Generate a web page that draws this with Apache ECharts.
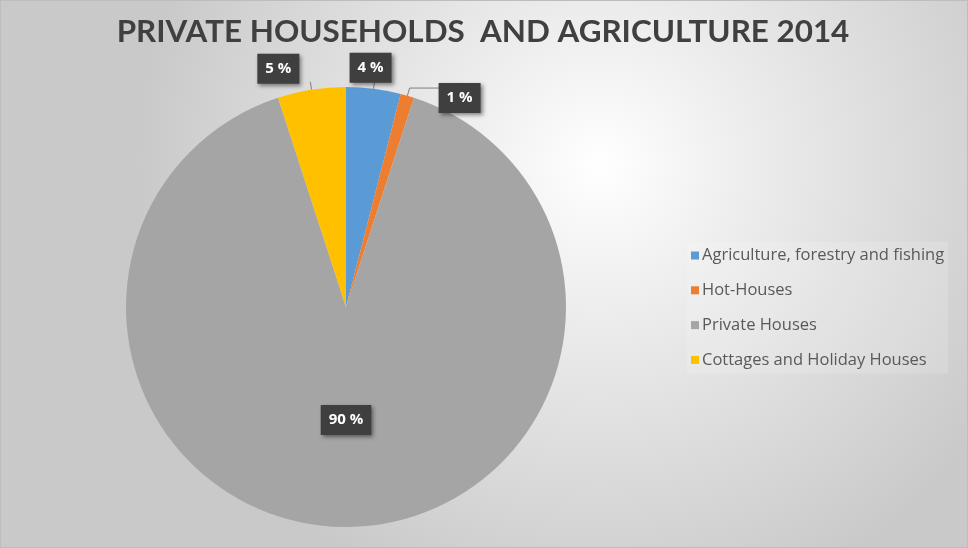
<!DOCTYPE html>
<html>
<head>
<meta charset="utf-8">
<script src="https://cdn.jsdelivr.net/npm/echarts@6/dist/echarts.min.js"></script>
<style>
  html, body { margin: 0; padding: 0; background: #ffffff; }
  #chart { width: 968px; height: 548px; box-sizing: border-box; border: 1px solid #bdbdbd; }
</style>
</head>
<body>
<div id="chart"></div>
<script>
// Share of consumption by sector, 2014 (percent)
const categories = [
  'Agriculture, forestry and fishing',
  'Hot-Houses',
  'Private Houses',
  'Cottages and Holiday Houses'
];
const shares = [4, 1, 90, 5];
const colors = ['#5B9BD5', '#ED7D31', '#A5A5A5', '#FFC000'];
const titleText = 'PRIVATE HOUSEHOLDS  AND AGRICULTURE 2014';

// nudges for the callout boxes of the narrow slices
const labelNudge = [[-30, -13], [-8, 10], [0, 0], [-6, -13]];
const leaderLen2 = [0, 32, 0, 0];

const chart = echarts.init(document.getElementById('chart'), null, { renderer: 'canvas' });

const labelBox = {
  show: true,
  formatter: p => p.value + ' %',
  color: '#ffffff',
  fontFamily: 'Open Sans',
  fontWeight: 'bold',
  fontSize: 15,
  backgroundColor: '#3f3f3f',
  padding: [8, 8, 7, 8],
  shadowColor: 'rgba(0,0,0,0.45)',
  shadowBlur: 4,
  shadowOffsetX: 2,
  shadowOffsetY: 2
};

const data = categories.map((name, i) => {
  const item = {
    name, value: shares[i], itemStyle: { color: colors[i] },
    labelLine: { length2: leaderLen2[i] }
  };
  if (name === 'Private Houses') {
    item.label = Object.assign({}, labelBox, { position: 'inside' });
    item.labelLine = { show: false };
  }
  return item;
});

chart.setOption({
  backgroundColor: {
    type: 'radial', x: 0.62, y: 0.3, r: 0.85,
    colorStops: [
      { offset: 0, color: '#ffffff' },
      { offset: 0.3, color: '#eeeeee' },
      { offset: 1, color: '#c9c9c9' }
    ]
  },
  title: {
    text: titleText,
    left: 477, top: 10, textAlign: 'center',
    textStyle: { fontFamily: 'Lato', fontWeight: 'bold', fontSize: 31.4, color: '#404040' }
  },
  legend: {
    orient: 'vertical',
    left: 686, top: 241,
    itemWidth: 8, itemHeight: 8, itemGap: 17.8,
    icon: 'rect',
    backgroundColor: 'rgba(255,255,255,0.15)',
    padding: [5, 4, 5, 4],
    textStyle: { fontFamily: 'Open Sans', fontSize: 16.5, color: '#595959', padding: [0, 0, 0, -2] },
    data: categories
  },
  series: [{
    type: 'pie',
    center: [345, 306],
    radius: 220,
    startAngle: 90,
    clockwise: true,
    avoidLabelOverlap: false,
    label: Object.assign({}, labelBox, { position: 'outside' }),
    labelLine: { show: true, length: 8, length2: 0, lineStyle: { color: '#7f7f7f', width: 1 } },
    labelLayout: p => ({
      hideOverlap: false,
      dx: labelNudge[p.dataIndex][0],
      dy: labelNudge[p.dataIndex][1]
    }),
    emphasis: { disabled: true },
    data
  }]
});
</script>
</body>
</html>
